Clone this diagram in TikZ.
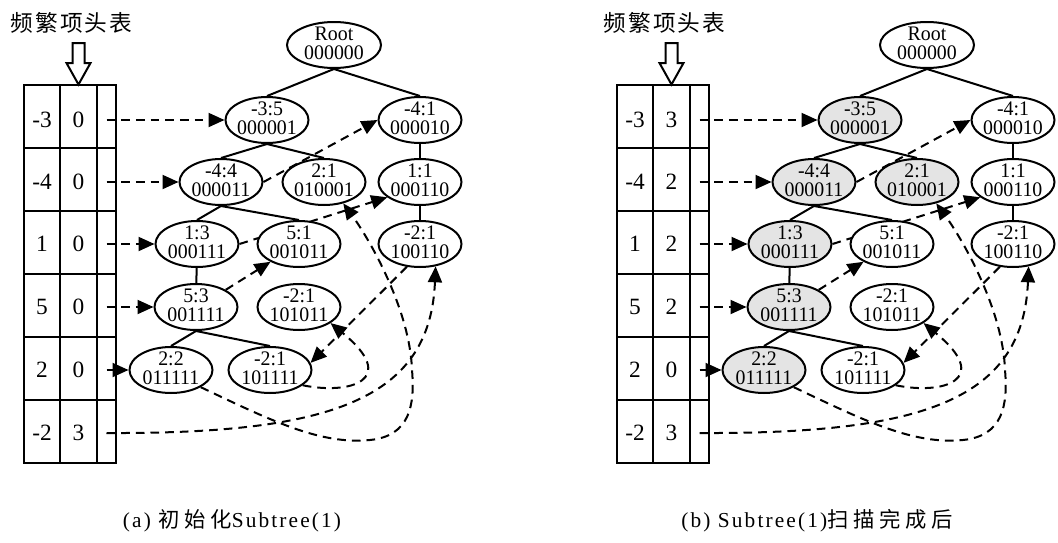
\documentclass[tikz,border=0pt]{standalone}
\usepackage{graphicx}
\usepackage{fontspec}
\setmainfont{Liberation Serif}
\newfontfamily\titlecjk[LetterSpace=9]{Noto Sans CJK SC}
\newfontfamily\capcjk[LetterSpace=22]{Noto Sans CJK SC}
\newfontfamily\caplat[LetterSpace=10]{Liberation Serif}
\usetikzlibrary{shapes.geometric,arrows.meta}
\pgfdeclarelayer{links}
\pgfsetlayers{links,main}
\definecolor{seenfill}{RGB}{228,228,228}

\tikzset{
  tnode/.style={ellipse, draw, line width=1.5pt, fill=white, inner sep=0pt,
    minimum width=62.25pt, minimum height=34.5pt},
  seen/.style={fill=seenfill},
  unseen/.style={},
  cell/.style={inner sep=0pt, font=\fontsize{17.5}{20}\selectfont},
  treeedge/.style={line width=1.5pt},
  link/.style={line width=1.5pt, dash pattern=on 6.5pt off 4.5pt,
    -{Triangle[length=12pt,width=10.5pt]}},
  grid/.style={line width=1.5pt},
  hollow/.style={line width=1.5pt, fill=white, line join=miter},
}

% two-line label of a tree node (item:count over the bit string)
\newcommand\lbl[2]{\smash{\raisebox{-4.5pt}{\makebox[0pt]{\scalebox{0.96}[1]{%
  \fontsize{15.5}{14}\selectfont
  \begin{tabular}{@{}c@{}}#1\\#2\end{tabular}}}}}}

% caption text: Latin and CJK parts
\newcommand\capl[1]{{\caplat\fontsize{16}{19}\selectfont #1}}
\newcommand\capc[1]{{\capcjk\fontsize{16}{19}\selectfont #1}}

% #1 name prefix, #2 horizontal offset, #3 style of visited nodes, #4-#9 counts
\newcommand\panel[9]{%
\begin{scope}[xshift=#2*0.75pt]
  \node[font=\titlecjk\fontsize{17}{20}\selectfont, inner sep=0pt] (#1-title) at (71.5,23) {频繁项头表};
  \draw[hollow] (72.5,43) -- (84.5,43) -- (84.5,63) -- (90.5,63) -- (78.5,84.5)
    -- (66.5,63) -- (72.5,63) -- cycle;
  % header table
  \draw[grid] (24,85) rectangle (116,463);
  \foreach \yy in {148,211,274,337,400} \draw[grid] (24,\yy) -- (116,\yy);
  \draw[grid] (60,85) -- (60,463) (97,85) -- (97,463);
  \node[cell] (#1-i1) at (42,120) {-3};
  \node[cell] (#1-i2) at (42,182) {-4};
  \node[cell] (#1-i3) at (42,244) {1};
  \node[cell] (#1-i4) at (42,307) {5};
  \node[cell] (#1-i5) at (42,370) {2};
  \node[cell] (#1-i6) at (42,433) {-2};
  \node[cell] (#1-c1) at (78.5,120) {#4};
  \node[cell] (#1-c2) at (78.5,182) {#5};
  \node[cell] (#1-c3) at (78.5,244) {#6};
  \node[cell] (#1-c4) at (78.5,307) {#7};
  \node[cell] (#1-c5) at (78.5,370) {#8};
  \node[cell] (#1-c6) at (78.5,433) {#9};
  \coordinate (#1-p1) at (106.5,120);
  \coordinate (#1-p2) at (106.5,182);
  \coordinate (#1-p3) at (106.5,244);
  \coordinate (#1-p4) at (106.5,307);
  \coordinate (#1-p5) at (106.5,370);
  \coordinate (#1-p6) at (106.5,433);
  % tree
  \node[tnode, minimum width=70.5pt] (#1-root) at (334,45) {\lbl{Root}{000000}};
  \node[tnode,#3] (#1-n35) at (267,120) {\lbl{-3:5}{000001}};
  \node[tnode] (#1-n41) at (420,120) {\lbl{-4:1}{000010}};
  \node[tnode,#3] (#1-n44) at (221,182) {\lbl{-4:4}{000011}};
  \node[tnode,#3] (#1-n21) at (324,182) {\lbl{2:1}{010001}};
  \node[tnode] (#1-n11) at (420,182) {\lbl{1:1}{000110}};
  \node[tnode,#3] (#1-n13) at (197,244) {\lbl{1:3}{000111}};
  \node[tnode] (#1-n51) at (299,244) {\lbl{5:1}{001011}};
  \node[tnode] (#1-n2a) at (420,244) {\lbl{-2:1}{100110}};
  \node[tnode,#3] (#1-n53) at (196,307) {\lbl{5:3}{001111}};
  \node[tnode] (#1-n2b) at (299,307) {\lbl{-2:1}{101011}};
  \node[tnode,#3] (#1-n22) at (171,370) {\lbl{2:2}{011111}};
  \node[tnode] (#1-n2c) at (270,370) {\lbl{-2:1}{101111}};
  \begin{pgfonlayer}{links}
    % parent-child edges
    \draw[treeedge] (#1-root.south) -- (#1-n35.north);
    \draw[treeedge] (#1-root.south) -- (#1-n41.north);
    \draw[treeedge] (#1-n35.south) -- (#1-n44.north);
    \draw[treeedge] (#1-n35.south) -- (#1-n21.north);
    \draw[treeedge] (#1-n41) -- (#1-n11);
    \draw[treeedge] (#1-n11) -- (#1-n2a);
    \draw[treeedge] (#1-n44.south) -- (#1-n13.north);
    \draw[treeedge] (#1-n44.south) -- (#1-n51.north);
    \draw[treeedge] (#1-n13) -- (#1-n53);
    \draw[treeedge] (#1-n53.south) -- (#1-n22.north);
    \draw[treeedge] (#1-n53.south) -- (#1-n2c.north);
    % header pointers
    \draw[link] (#1-p1) -- (#1-n35);
    \draw[link] (#1-p2) -- (#1-n44);
    \draw[link] (#1-p3) -- (#1-n13);
    \draw[link] (#1-p4) -- (#1-n53);
    \draw[link] (#1-p5) -- (#1-n22);
    \draw[link] (#1-p6) .. controls (330,434) and (430,400) .. (#1-n2a.305);
    % node-links between nodes of the same item
    \draw[link] (#1-n44.east) -- (#1-n41.west);
    \draw[link] (#1-n13.east) -- (#1-n11.205);
    \draw[link] (#1-n53.30) -- (#1-n51.212);
    \draw[link] (#1-n22.330) .. controls (270,420) and (320,445) .. (370,440)
      .. controls (410,436) and (415,405) .. (412,370)
      .. controls (410,310) and (370,240) .. (#1-n21.312);
    \draw[link] (#1-n2a.240) -- (#1-n2c.10);
    \draw[link] (#1-n2c.335) .. controls (350,395) and (400,380) .. (#1-n2b.333);
  \end{pgfonlayer}
\end{scope}}

\begin{document}
\begin{tikzpicture}[x=0.75pt, y=-0.75pt]
  \useasboundingbox (0,0) rectangle (1058,543);
  \panel{a}{0}{unseen}{0}{0}{0}{0}{0}{3}
  \panel{b}{593}{seen}{3}{2}{2}{2}{0}{3}
  \node[inner sep=0pt] (capa) at (232,521) {\capl{(a) }\capc{初始化}\capl{Subtree(1)}};
  \node[inner sep=0pt] (capb) at (817,521) {\capl{(b) Subtree(1)}\capc{扫描完成后}};
\end{tikzpicture}
\end{document}
